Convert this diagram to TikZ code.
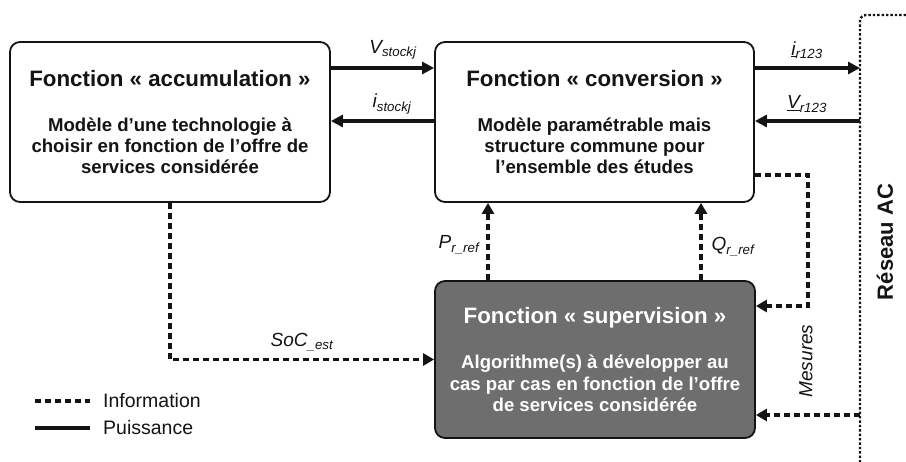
\documentclass[tikz,border=0pt]{standalone}
\usepackage{fontspec}
\setmainfont{Liberation Sans}
\usetikzlibrary{arrows.meta,calc}
\definecolor{supfill}{RGB}{110,110,110}
\definecolor{ink}{RGB}{20,20,20}
\newcommand\titlef{\fontsize{22.3}{25}\selectfont\bfseries}
\newcommand\bodyf{\fontsize{18.6}{21.3}\selectfont\bfseries}
\newcommand\lblf{\fontsize{19}{22}\selectfont\itshape}
\newcommand\lbl[2]{#1\textsubscript{#2}}
\begin{document}
\begin{tikzpicture}[x=1pt,y=-1pt,
  box/.style={draw=ink,line width=1.8pt,rounded corners=10pt,align=center,font=\bodyf,text=ink,inner sep=0pt},
  power/.style={draw=ink,line width=3.4pt,-{Triangle[length=12pt,width=12pt]}},
  info/.style={draw=ink,line width=3.6pt,dash pattern=on 6pt off 4pt,-{Triangle[length=11pt,width=12pt]}},
  infoline/.style={draw=ink,line width=3.6pt,dash pattern=on 6pt off 4pt},
  netline/.style={draw=ink,line width=2.4pt,dash pattern=on 2.4pt off 2pt,rounded corners=6pt},
  lab/.style={font=\lblf,text=ink,inner sep=0pt},
  legtext/.style={font=\fontsize{19.5}{22}\selectfont,text=ink,anchor=west,inner sep=0pt}]
\useasboundingbox (0,0) rectangle (906,462);
\fill[white] (0,0) rectangle (906,462);

% boxes
\node[box,minimum width=320pt,minimum height=160pt] (acc) at (170,122)
  {{\titlef Fonction « accumulation »}\\[24pt]Modèle d’une technologie à\\choisir en fonction de l’offre de\\services considérée};
\node[box,minimum width=319pt,minimum height=160pt] (conv) at (594.5,122)
  {{\titlef Fonction « conversion »}\\[24pt]Modèle paramétrable mais\\structure commune pour\\l’ensemble des études};
\node[box,fill=supfill,text=white,minimum width=320pt,minimum height=157pt] (sup) at (595,359.5)
  {{\titlef Fonction « supervision »}\\[24pt]Algorithme(s) à développer au\\cas par cas en fonction de l’offre\\de services considérée};

% network line
\coordinate (ntop) at (906,15);
\coordinate (ncorner) at (860,15);
\coordinate (nbot) at (860,462);
\draw[netline] (ntop) -- (ncorner) -- (nbot);
\coordinate (nA) at (860,68);
\coordinate (nB) at (860,121);
\coordinate (nC) at (860,415);
\node[font=\fontsize{22}{26}\selectfont\bfseries,text=ink,rotate=90,inner sep=0pt] (reseau) at (885,242) {Réseau AC};

% power arrows
\draw[power] ([yshift=54pt]acc.east) -- ([yshift=54pt]conv.west);
\draw[power] ([yshift=1pt]conv.west) -- ([yshift=1pt]acc.east);
\draw[power] ([yshift=54pt]conv.east) -- (nA);
\draw[power] (nB) -- (nB -| conv.east);
\node[lab] (lv) at (393,50) {\lbl{V}{stockj}};
\node[lab] (li) at (392,104) {\lbl{i}{stockj}};
\node[lab] (lir) at (807,50) {\lbl{\underline{i}}{r123}};
\node[lab] (lvr) at (807,104) {\lbl{\underline{V}}{r123}};

% info arrows
\coordinate (px) at (488,0);
\coordinate (qx) at (701,0);
\draw[info] (acc.south) |- (sup.west);
\draw[info] (sup.north -| px) -- (conv.south -| px);
\draw[info] (sup.north -| qx) -- (conv.south -| qx);
\draw[info] ([yshift=-53pt]conv.east) -- ++(53pt,0) |- ([yshift=53.5pt]sup.east);
\draw[info] (nC) -- (nC -| sup.east);
\node[lab] (lsoc) at (302,342) {\lbl{SoC}{\_est}};
\node[lab] (lp) at (459,245) {\lbl{P}{r\_ref}};
\node[lab] (lq) at (733,247) {\lbl{Q}{r\_ref}};
\node[lab,rotate=90] (lmes) at (806,361) {Mesures};

% legend
\coordinate (l1a) at (35,401);
\coordinate (l1b) at (90,401);
\coordinate (l2a) at (35,428);
\coordinate (l2b) at (90,428);
\draw[infoline] (l1a) -- (l1b);
\draw[draw=ink,line width=3.4pt] (l2a) -- (l2b);
\node[legtext] (tinfo) at (103,401) {Information};
\node[legtext] (tpuis) at (103,428) {Puissance};
\end{tikzpicture}
\end{document}
